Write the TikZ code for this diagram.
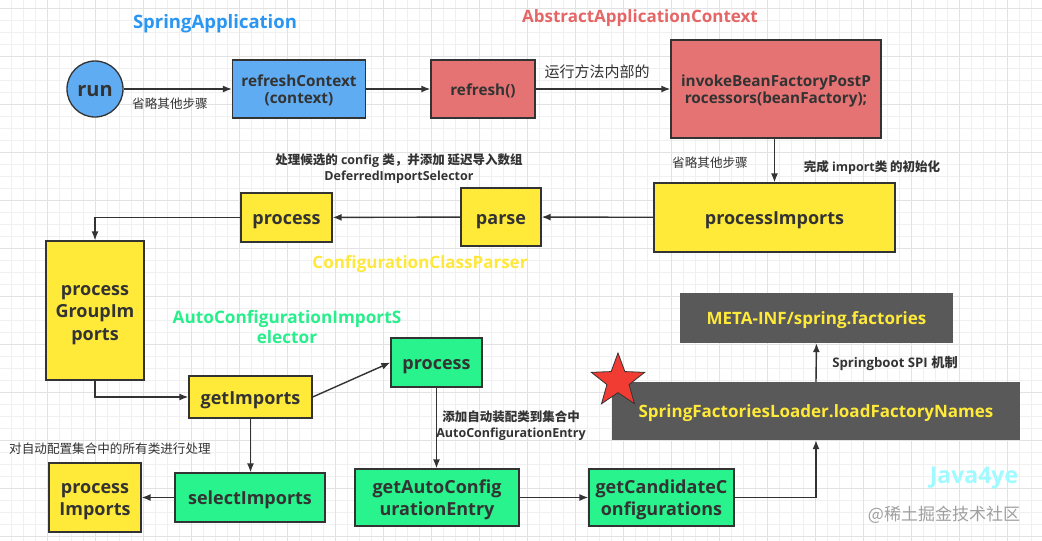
\documentclass[tikz,border=0pt]{standalone}
\usepackage{fontspec}
\setmainfont{Open Sans}
\newfontfamily\cjk{Noto Sans CJK SC}
\usetikzlibrary{arrows.meta,shapes.geometric}
\definecolor{ink}{RGB}{51,51,51}
\definecolor{bluefill}{RGB}{95,172,242}
\definecolor{redfill}{RGB}{229,115,115}
\definecolor{yelfill}{RGB}{255,234,58}
\definecolor{grnfill}{RGB}{40,243,140}
\definecolor{darkfill}{RGB}{89,89,89}
\definecolor{titleblue}{RGB}{42,150,243}
\definecolor{titlered}{RGB}{229,102,102}
\definecolor{titleyel}{RGB}{255,232,60}
\definecolor{titlegrn}{RGB}{40,238,140}
\definecolor{javacyan}{RGB}{160,250,255}
\definecolor{starred}{RGB}{240,60,50}
\definecolor{gridminor}{RGB}{240,240,240}
\definecolor{gridmajor}{RGB}{226,226,226}
\tikzset{
  box/.style={draw=ink, line width=1.3pt, text=ink, font=\bfseries\fontsize{18}{22.5}\selectfont,
    text height=19.4pt, text depth=5.2pt, align=center, inner sep=2pt},
  twoline/.style={text height=41.9pt},
  threeline/.style={text height=64.4pt},
  midfont/.style={font=\bfseries\fontsize{15.3}{17.8}\selectfont, text height=16.5pt, text depth=4.4pt},
  midtwo/.style={text height=34.3pt},
  bluebox/.style={box, fill=bluefill},
  redbox/.style={box, fill=redfill},
  yelbox/.style={box, fill=yelfill},
  grnbox/.style={box, fill=grnfill},
  darkbox/.style={fill=darkfill, text=yelfill, font=\bfseries\fontsize{17}{20}\selectfont,
    text height=18.4pt, text depth=4.9pt, align=center},
  lbl/.style={text=ink, font=\cjk\fontsize{12.6}{15}\selectfont, align=center, inner sep=0pt},
  lblb/.style={text=ink, font=\bfseries\fontsize{12.5}{16}\selectfont, align=center, inner sep=0pt},
  ttl/.style={font=\bfseries\fontsize{17}{20}\selectfont, inner sep=0pt, align=center},
  conn/.style={draw=ink, line width=1.4pt, -{Latex[length=9pt,width=7pt]}},
}
\begin{document}
\begin{tikzpicture}[x=1pt,y=-1pt]
\useasboundingbox (0,0) rectangle (1042,541);
\fill[white] (0,0) rectangle (1042,541);
% grid
\foreach \i in {0,...,87} {
  \draw[gridminor, line width=0.6pt] ({-0.3+12*\i},0) -- ({-0.3+12*\i},541);
}
\foreach \i in {0,...,45} {
  \draw[gridminor, line width=0.6pt] (0,{-3.3+12*\i}) -- (1042,{-3.3+12*\i});
}
\foreach \i in {0,...,21} {
  \draw[gridmajor, line width=0.7pt] ({47.7+48*\i},0) -- ({47.7+48*\i},541);
}
\foreach \i in {0,...,11} {
  \draw[gridmajor, line width=0.7pt] (0,{8.7+48*\i}) -- (1042,{8.7+48*\i});
}

% titles
\node[ttl, text=titleblue, font=\bfseries\fontsize{18.5}{21}\selectfont] (tSA) at (215,24) {SpringApplication};
\node[ttl, text=titlered] (tAAC) at (640,18) {AbstractApplicationContext};
\node[ttl, text=titleyel] (tCCP) at (420,264) {ConfigurationClassParser};
\node[ttl, text=titlegrn, font=\bfseries\fontsize{17.2}{20}\selectfont] (tACIS) at (287,327) {AutoConfigurationImportS\\elector};
\node[ttl, text=javacyan, font=\bfseries\fontsize{23}{26}\selectfont] (tJava) at (974,478) {Java4ye};
\node[text=gray!75, font=\cjk\fontsize{17}{20}\selectfont, inner sep=0pt] (tJuejin) at (944,515) {@稀土掘金技术社区};

% nodes
\node[bluebox, circle, minimum size=56pt, inner sep=0pt, font=\bfseries\fontsize{20}{22}\selectfont,
  text height=21.6pt, text depth=5.8pt] (run) at (95,89) {run};
\node[bluebox, midfont, midtwo, minimum width=133pt, minimum height=58pt] (refreshCtx) at (299,89) {refreshContext\\(context)};
\node[redbox, midfont, minimum width=104pt, minimum height=58pt] (refresh) at (483,89) {refresh()};
\node[redbox, midfont, midtwo, minimum width=210pt, minimum height=98pt] (invoke) at (776,89) {invokeBeanFactoryPostP\\rocessors(beanFactory);};
\node[yelbox, minimum width=241pt, minimum height=69pt] (procImports) at (774.5,217.5) {processImports};
\node[yelbox, minimum width=80pt, minimum height=58pt] (parse) at (501,217) {parse};
\node[yelbox, minimum width=91pt, minimum height=49pt] (process1) at (286.5,217.5) {process};
\node[yelbox, threeline, minimum width=98pt, minimum height=139pt] (pgi) at (95,310.5) {process\\GroupIm\\ports};
\node[yelbox, minimum width=123pt, minimum height=42pt] (getImports) at (250.5,397) {getImports};
\node[grnbox, minimum width=91pt, minimum height=49pt] (process2) at (436.5,362.5) {process};
\node[grnbox, minimum width=150pt, minimum height=49pt] (selectImports) at (250,497.5) {selectImports};
\node[yelbox, twoline, minimum width=92pt, minimum height=69pt] (procImports2) at (95,497.5) {process\\Imports};
\node[grnbox, twoline, minimum width=164pt, minimum height=57pt] (getAuto) at (437,497.5) {getAutoConfig\\urationEntry};
\node[grnbox, twoline, minimum width=145pt, minimum height=57pt] (getCand) at (661.5,497.5) {getCandidateC\\onfigurations};
\node[darkbox, minimum width=408pt, minimum height=58pt] (sfl) at (816,411) {SpringFactoriesLoader.loadFactoryNames};
\node[darkbox, minimum width=273pt, minimum height=50pt] (meta) at (816.5,318) {META-INF/spring.factories};
\node[star, star points=5, star point ratio=2.4, minimum size=56pt, inner sep=0pt, fill=starred, draw=ink, line width=0.8pt] (starmark) at (618,381) {};

% labels
\node[lbl] (l1) at (170,104) {省略其他步骤};
\node[lbl, font=\cjk\fontsize{15}{18}\selectfont] (l2) at (597,72) {运行方法内部的};
\node[lbl] (l3) at (710,163) {省略其他步骤};
\node[lblb] (l4) at (872,168) {{\cjk 完成} import{\cjk 类 的初始化}};
\node[lblb] (l5) at (399,169) {{\cjk 处理候选的} config {\cjk 类，并添加 延迟导入数组}\\DeferredImportSelector};
\node[lblb] (l6) at (511,426) {{\cjk 添加自动装配类到集合中}\\AutoConfigurationEntry};
\node[lbl] (l7) at (110,449) {对自动配置集合中的所有类进行处理};
\node[lblb, font=\bfseries\fontsize{13.2}{16}\selectfont] (l8) at (895,363) {Springboot SPI {\cjk 机制}};

% connectors
\draw[conn] (run) -- (refreshCtx);
\draw[conn] (refreshCtx) -- (refresh);
\draw[conn] (refresh) -- (invoke);
\draw[conn] (invoke.south -| procImports.north) -- (procImports.north);
\draw[conn] (procImports) -- (parse);
\draw[conn] (parse) -- (process1);
\draw[conn] (process1.west) -| (pgi.north);
\draw[conn] (pgi.south) |- (getImports.west);
\draw[conn] (getImports.east) -- (process2.west);
\draw[conn] (getImports.south) -- (selectImports.north -| getImports.south);
\draw[conn] (selectImports) -- (procImports2);
\draw[conn] (process2.south) -- (getAuto.north -| process2.south);
\draw[conn] (getAuto) -- (getCand);
\draw[conn] (getCand.east) -| (sfl.south);
\draw[conn] (sfl.north) -- (meta.south);
\end{tikzpicture}
\end{document}
